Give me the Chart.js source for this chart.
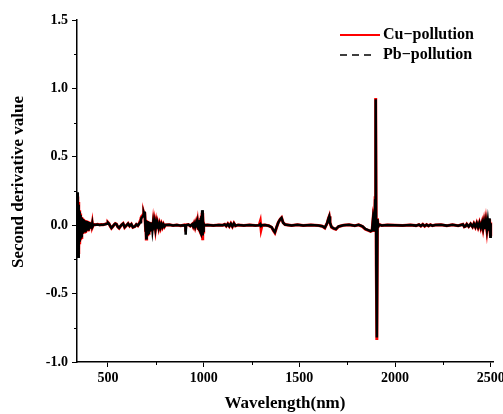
<!DOCTYPE html>
<html>
<head>
<meta charset="utf-8">
<script src="https://cdn.jsdelivr.net/npm/chart.js@4.4.1/dist/chart.umd.min.js"></script>
<style>
  html, body { margin: 0; padding: 0; background: #fff; }
  #wrap { width: 503px; height: 414px; }
</style>
</head>
<body>
<div id="wrap"><canvas id="spectra"></canvas></div>
<script>
// wavelength (nm) of every sample
const wavelength = [
  // 342-420, strong oscillation at the start
  342, 344, 346, 348, 350, 352, 354, 356, 358, 360,
  362, 364, 366, 368, 370, 372, 374, 376, 378, 380,
  382, 384, 386, 388, 390, 392, 394, 396, 398, 400,
  402, 404, 406, 408, 410, 412, 414, 416, 418, 420,
  // 425-668 small wiggles
  425, 435, 445, 455, 465, 475, 485, 495,
  500, 505, 512, 518, 525, 532, 538, 544,
  551, 558, 565, 572, 579, 587, 595, 605,
  613, 622, 630, 640, 648, 656, 662, 668,
  // 672-800 feature near 700
  672, 676, 680, 684, 687, 690, 692, 694, 696, 698, 700, 702,
  705, 708, 711, 714, 717, 720, 724, 728,
  732, 736, 740, 744, 748, 752, 756, 760,
  765, 770, 775, 780, 785, 790, 795, 800,
  // 820-1002 feature near 1000
  820, 840, 860, 880, 900, 904, 906, 908,
  920, 930, 940, 945, 950, 955, 960, 964,
  968, 971, 974, 977, 980, 982, 984, 986,
  988, 990, 992, 994, 996, 998, 1000, 1002,
  // 1020-1893
  1020, 1050, 1080, 1100, 1110, 1118, 1126, 1134,
  1142, 1150, 1158, 1166, 1180, 1210, 1240, 1270,
  1290, 1296, 1300, 1305, 1320, 1340, 1355, 1365,
  1372, 1380, 1390, 1400, 1407, 1415, 1425, 1440,
  1460, 1490, 1520, 1560, 1600, 1620, 1633, 1645,
  1652, 1656, 1660, 1668, 1680, 1691, 1705, 1730,
  1760, 1790, 1810, 1830, 1845, 1860, 1872, 1880,
  1886, 1890, 1893,
  // 1896-2500, water band spike and the noisy tail
  1896, 1899, 1902, 1905, 1908, 1912, 1918, 1930, 1960, 2000,
  2040, 2080, 2110, 2125, 2135, 2145, 2155, 2165, 2175, 2185,
  2195, 2210, 2240, 2270, 2300, 2330, 2355, 2362, 2368, 2375,
  2385, 2395, 2405, 2412, 2420, 2427, 2434, 2441, 2448, 2455,
  2460, 2465, 2470, 2475, 2480, 2485, 2490, 2494, 2498, 2500
];

const cuPollution = [
  0.21, -0.20, 0.17, -0.18, 0.11, -0.14, 0.085, -0.11, 0.07, -0.09,
  0.06, -0.075, 0.05, -0.065, 0.045, -0.058, 0.042, -0.05, 0.038, -0.046,
  0.036, -0.042, 0.034, -0.04, 0.032, -0.036, 0.03, -0.034, 0.027, -0.03,
  0.024, -0.026, 0.021, -0.022, 0.018, -0.018, 0.016, -0.014, 0.014, -0.01,

  0.006, 0.004, 0.006, 0.003, 0.005, 0.004, 0.008, 0.012,
  0.02, 0.012, -0.008, -0.022, -0.01, 0.004, 0.012, 0.008,
  -0.012, -0.022, -0.008, 0.004, 0.012, -0.016, -0.004, 0.012,
  -0.006, 0.008, -0.016, -0.01, 0.006, -0.004, 0.01, 0.03,

  0.05, 0.065, 0.07, 0.08, 0.09, 0.075, 0.095, 0.03, -0.05, 0.04, -0.10, 0.035,
  -0.07, 0.03, -0.06, 0.025, -0.05, 0.022, -0.045, 0.02,
  -0.04, 0.018, -0.035, 0.016, -0.03, 0.014, -0.026, 0.012,
  -0.022, 0.01, -0.018, 0.008, -0.014, 0.006, -0.01, 0.002,

  0.003, -0.002, 0.002, -0.003, 0.002, -0.002, -0.004, 0.002,
  0.005, -0.006, 0.008, -0.01, 0.012, -0.014, 0.016, -0.018,
  0.02, -0.025, 0.03, -0.035, 0.04, -0.05, 0.055, -0.06,
  0.07, -0.08, 0.09, -0.11, 0.085, -0.05, 0.01, 0.0,

  0.002, -0.002, 0.002, 0.0, 0.006, -0.006, 0.01, -0.008,
  0.012, -0.01, 0.014, -0.005, 0.002, -0.002, 0.002, -0.002,
  0.0, 0.028, -0.03, 0.0, 0.002, -0.004, -0.015, -0.04,
  -0.055, -0.02, 0.02, 0.045, 0.055, 0.02, 0.005, 0.002,
  -0.002, 0.003, -0.002, 0.002, -0.003, -0.008, -0.02, 0.015,
  0.05, 0.065, 0.02, -0.015, -0.025, -0.03, -0.01, 0.0,
  0.004, -0.003, 0.003, -0.01, -0.03, -0.038, -0.045, -0.04,
  0.06, 0.03, -0.05,

  0.2, 0.93, -0.3, -0.84, 0.05, -0.01, 0.004, -0.002, 0.002, 0.0,
  -0.002, 0.002, -0.003, 0.004, -0.006, 0.006, -0.007, 0.004, -0.005, 0.004,
  -0.003, 0.002, 0.003, -0.003, 0.004, -0.004, 0.006, -0.012, -0.008, 0.008,
  -0.01, 0.01, -0.012, 0.012, -0.014, 0.015, -0.016, 0.018, -0.02, 0.02,
  -0.024, 0.024, -0.03, 0.03, -0.035, 0.035, -0.045, 0.045, -0.07, 0.02
];

const pbPollution = [
  0.24, -0.23, 0.15, -0.17, 0.10, -0.12, 0.075, -0.10, 0.06, -0.08,
  0.055, -0.07, 0.045, -0.06, 0.04, -0.052, 0.038, -0.045, 0.034, -0.04,
  0.032, -0.038, 0.03, -0.035, 0.028, -0.032, 0.026, -0.03, 0.024, -0.026,
  0.021, -0.023, 0.019, -0.02, 0.016, -0.016, 0.014, -0.012, 0.012, -0.008,

  0.005, 0.003, 0.005, 0.002, 0.004, 0.004, 0.007, 0.011,
  0.018, 0.011, -0.007, -0.02, -0.009, 0.004, 0.011, 0.007,
  -0.011, -0.02, -0.007, 0.004, 0.011, -0.014, -0.003, 0.011,
  -0.005, 0.007, -0.014, -0.009, 0.005, -0.003, 0.008, 0.022,

  0.04, 0.055, 0.06, 0.07, 0.085, 0.07, 0.10, 0.035, -0.045, 0.035, -0.095, 0.03,
  -0.065, 0.028, -0.055, 0.024, -0.048, 0.02, -0.042, 0.018,
  -0.037, 0.016, -0.032, 0.014, -0.028, 0.012, -0.024, 0.011,
  -0.02, 0.009, -0.016, 0.007, -0.012, 0.005, -0.008, 0.002,

  0.003, -0.002, 0.002, -0.003, 0.0, 0.0, -0.07, 0.0,
  0.005, -0.005, 0.007, -0.009, 0.011, -0.012, 0.015, -0.016,
  0.018, -0.022, 0.028, -0.032, 0.038, -0.045, 0.05, -0.055,
  0.065, -0.07, 0.11, -0.075, 0.08, -0.04, 0.008, 0.0,

  0.002, -0.002, 0.002, 0.0, 0.005, -0.005, 0.009, -0.007,
  0.011, -0.009, 0.013, -0.004, 0.002, -0.002, 0.002, -0.002,
  0.0, 0.008, -0.006, 0.0, 0.002, -0.004, -0.014, -0.038,
  -0.052, -0.018, 0.02, 0.043, 0.053, 0.018, 0.005, 0.002,
  -0.002, 0.003, -0.002, 0.002, -0.003, -0.007, -0.018, 0.014,
  0.048, 0.063, 0.018, -0.013, -0.023, -0.028, -0.009, 0.0,
  0.004, -0.003, 0.003, -0.009, -0.028, -0.036, -0.043, -0.038,
  0.058, 0.028, -0.045,

  0.18, 0.92, -0.28, -0.82, 0.045, -0.01, 0.004, -0.002, 0.002, 0.0,
  -0.002, 0.002, -0.003, 0.004, -0.005, 0.005, -0.006, 0.003, -0.004, 0.003,
  -0.003, 0.002, 0.003, -0.003, 0.004, -0.004, 0.005, -0.011, -0.007, 0.007,
  -0.009, 0.009, -0.011, 0.011, -0.013, 0.014, -0.015, 0.017, -0.018, 0.018,
  -0.022, 0.022, -0.027, 0.027, -0.032, 0.032, -0.04, 0.05, -0.085, 0.015
];

const seriesNames = ['Cu\u2212pollution', 'Pb\u2212pollution'];
const xTicks = [500, 1000, 1500, 2000, 2500];
const yTicks = [-1.0, -0.5, 0.0, 0.5, 1.0, 1.5];
const xMinorTicks = [750, 1250, 1750, 2250];
const yMinorTicks = [-0.75, -0.25, 0.25, 0.75, 1.25];

if (wavelength.length !== cuPollution.length || wavelength.length !== pbPollution.length) {
  console.error('length mismatch', wavelength.length, cuPollution.length, pbPollution.length);
}

function toPoints(values) {
  return wavelength.map((w, i) => ({ x: w, y: values[i] }));
}

const fontFamily = '"Liberation Serif", "Times New Roman", serif';

// minor ticks, y title and the legend are drawn by hand
const extras = {
  id: 'extras',
  afterDraw(chart) {
    const ctx = chart.ctx;
    const xs = chart.scales.x;
    const ys = chart.scales.y;
    const area = chart.chartArea;
    ctx.save();
    ctx.strokeStyle = '#000';
    ctx.lineWidth = 1;
    xMinorTicks.forEach(v => {
      const px = Math.round(xs.getPixelForValue(v)) + 0.5;
      ctx.beginPath();
      ctx.moveTo(px, area.bottom);
      ctx.lineTo(px, area.bottom + 3);
      ctx.stroke();
    });
    yMinorTicks.forEach(v => {
      const py = Math.round(ys.getPixelForValue(v)) + 0.5;
      ctx.beginPath();
      ctx.moveTo(area.left, py);
      ctx.lineTo(area.left - 3, py);
      ctx.stroke();
    });

    // y axis title
    ctx.fillStyle = '#000';
    ctx.font = 'bold 17px ' + fontFamily;
    ctx.textAlign = 'center';
    ctx.textBaseline = 'middle';
    ctx.translate(19, 182);
    ctx.rotate(-Math.PI / 2);
    ctx.fillText('Second derivative value', 0, 0);
    ctx.restore();

    // legend
    ctx.save();
    const lx = Math.round(area.right - 153);
    ctx.font = 'bold 16px ' + fontFamily;
    ctx.textAlign = 'left';
    ctx.textBaseline = 'middle';
    ctx.fillStyle = '#000';
    ctx.lineWidth = 2;
    ctx.strokeStyle = 'rgb(255, 0, 0)';
    ctx.beginPath();
    ctx.moveTo(lx, 35);
    ctx.lineTo(lx + 40, 35);
    ctx.stroke();
    ctx.fillText(seriesNames[0], lx + 43, 35);
    ctx.lineWidth = 1.5;
    ctx.strokeStyle = '#000';
    ctx.setLineDash([7, 5]);
    ctx.beginPath();
    ctx.moveTo(lx, 55);
    ctx.lineTo(lx + 33, 55);
    ctx.stroke();
    ctx.setLineDash([]);
    ctx.fillText(seriesNames[1], lx + 43, 55);
    ctx.restore();
  }
};

new Chart(document.getElementById('spectra'), {
  type: 'line',
  data: {
    datasets: [
      {
        label: seriesNames[0],
        data: toPoints(cuPollution),
        borderColor: '#ff0000',
        borderWidth: 3,
        pointRadius: 0,
        tension: 0,
        order: 2
      },
      {
        label: seriesNames[1],
        data: toPoints(pbPollution),
        borderColor: '#000000',
        borderWidth: 2.5,
        pointRadius: 0,
        tension: 0,
        order: 1
      }
    ]
  },
  options: {
    responsive: true,
    maintainAspectRatio: false,
    animation: false,
    devicePixelRatio: 1,
    layout: { padding: { top: 20, right: 10, bottom: 0, left: 0 } },
    plugins: {
      legend: { display: false },
      tooltip: { enabled: false }
    },
    scales: {
      x: {
        type: 'linear',
        min: 338,
        max: 2512,
        afterBuildTicks(scale) { scale.ticks = xTicks.map(v => ({ value: v })); },
        afterFit(scale) { scale.height = 52; scale.paddingLeft = 0; scale.paddingRight = 0; },
        border: { display: true, color: '#000', width: 1.5 },
        grid: { display: true, drawOnChartArea: false, drawTicks: true, tickLength: 5, tickColor: '#000', tickWidth: 1 },
        ticks: {
          color: '#000',
          padding: 3,
          maxRotation: 0,
          autoSkip: false,
          font: { family: fontFamily, size: 14, weight: 'bold' },
          callback: v => String(v)
        },
        title: {
          display: true,
          text: 'Wavelength(nm)',
          color: '#000',
          padding: { top: 0, bottom: 0 },
          font: { family: fontFamily, size: 17, weight: 'bold' }
        }
      },
      y: {
        min: -1.0,
        max: 1.5,
        afterBuildTicks(scale) { scale.ticks = yTicks.map(v => ({ value: v })); },
        afterFit(scale) { scale.width = 77; scale.paddingTop = 0; scale.paddingBottom = 0; },
        border: { display: true, color: '#000', width: 1.5 },
        grid: { display: true, drawOnChartArea: false, drawTicks: true, tickLength: 5, tickColor: '#000', tickWidth: 1 },
        ticks: {
          color: '#000',
          padding: 4,
          autoSkip: false,
          font: { family: fontFamily, size: 14, weight: 'bold' },
          callback: v => v.toFixed(1)
        }
      }
    }
  },
  plugins: [extras]
});
</script>
</body>
</html>
